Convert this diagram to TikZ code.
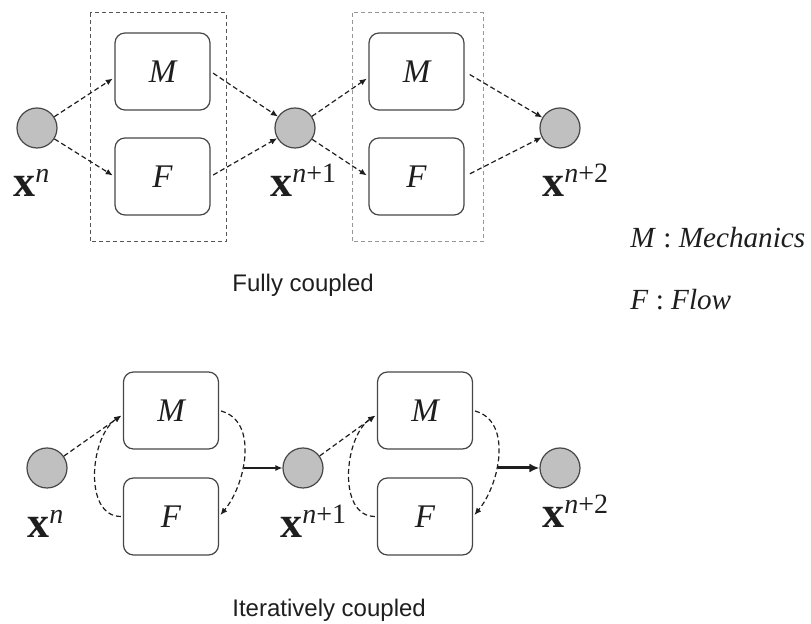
\documentclass[tikz,border=0pt]{standalone}
\usepackage{fontspec}
\setmainfont{Liberation Serif}
\newfontfamily\captionfont{Liberation Sans}
\usepackage{xcolor}
\usepackage{tikz}
\usetikzlibrary{positioning,arrows.meta}

\definecolor{nodegray}{RGB}{192,192,192}
\definecolor{edgegray}{RGB}{70,70,70}
\definecolor{framegray}{RGB}{85,85,85}
\definecolor{framelight}{RGB}{150,150,150}
\definecolor{inkgray}{RGB}{30,30,30}

% state label: bold x with italic superscript
\newcommand{\statex}[1]{\textbf{x}\raisebox{7pt}{\fontsize{14}{16}\selectfont\textit{n}#1}}

\begin{document}
\begin{tikzpicture}[x=0.5pt, y=-0.5pt,
    state/.style={circle, draw=edgegray, fill=nodegray, line width=0.6pt, minimum size=20pt, inner sep=0pt},
    block/.style={draw=edgegray, rounded corners=5pt, line width=0.6pt, minimum width=47.5pt, minimum height=38.5pt, inner sep=0pt, font=\fontsize{16.5}{18}\selectfont\itshape, text=inkgray},
    group/.style={line width=0.5pt, dash pattern=on 2pt off 1.5pt},
    flow/.style={draw=inkgray, line width=0.6pt, dash pattern=on 2.5pt off 1.5pt, -{Latex[length=3.5pt,width=3pt]}},
    pass/.style={draw=inkgray, line width=0.6pt, -{Latex[length=3.5pt,width=3pt]}},
    lbl/.style={inner sep=0pt, anchor=base west, font=\fontsize{22}{24}\selectfont, text=inkgray},
    caption/.style={inner sep=0pt, anchor=base west, font=\captionfont\fontsize{12}{14}\selectfont, text=inkgray},
    legend/.style={inner sep=0pt, anchor=base west, font=\fontsize{14.6}{18}\selectfont, text=inkgray}]
  \useasboundingbox (0,0) rectangle (811,624);

  % fully coupled
  \draw[group, draw=framegray] (90,13) rectangle (226,242);
  \draw[group, draw=framelight] (352,13) rectangle (483,242);
  \node[state] (xa) at (37,128) {};
  \node[block] (Ma) at (162.5,71.5) {M};
  \node[block] (Fa) at (162.5,176.5) {F};
  \node[state] (xb) at (295,128) {};
  \node[block] (Mb) at (416.5,71.5) {M};
  \node[block] (Fb) at (416.5,176.5) {F};
  \node[state] (xc) at (560,128) {};
  \node[lbl] (lxa) at (13,197) {\statex{}};
  \node[lbl] (lxb) at (270,197) {\statex{+1}};
  \node[lbl] (lxc) at (542,197) {\statex{+2}};
  \draw[flow, shorten >=1pt] (xa) -- ([yshift=-3pt]Ma.west);
  \draw[flow, shorten >=1pt] (xa) -- (Fa.west);
  \draw[flow, shorten <=1.5pt] (Ma.east) -- (xb);
  \draw[flow, shorten <=1.5pt] (Fa.east) -- (xb);
  \draw[flow, shorten >=1pt] (xb) -- ([yshift=-3pt]Mb.west);
  \draw[flow, shorten >=1pt] (xb) -- (Fb.west);
  \draw[flow, shorten <=3pt] (Mb.east) -- (xc);
  \draw[flow, shorten <=3pt] (Fb.east) -- (xc);
  \node[caption] (cfull) at (232,292) {Fully coupled};

  % iteratively coupled
  \node[state] (xd) at (47,468) {};
  \node[block] (Md) at (171,410.5) {M};
  \node[block] (Fd) at (171,516.5) {F};
  \node[state] (xe) at (303,468) {};
  \node[block] (Me) at (425,410.5) {M};
  \node[block] (Fe) at (425,516.5) {F};
  \node[state] (xf) at (560,468) {};
  \node[lbl] (lxd) at (27,538) {\statex{}};
  \node[lbl] (lxe) at (280,538) {\statex{+1}};
  \node[lbl] (lxf) at (542,528) {\statex{+2}};
  \draw[flow, shorten >=1pt] (xd) -- ([yshift=-2pt]Md.west);
  \draw[flow, shorten <=1pt, shorten >=1pt] (Fd.west) to[out=180, in=214] ([yshift=-2pt]Md.west);
  \draw[flow, shorten <=1pt, shorten >=1pt] (Md.east) to[out=-15, in=50] coordinate[pos=0.5] (jd) (Fd.east);
  \draw[pass] (jd |- xe) -- (xe);
  \draw[flow, shorten >=1pt] (xe) -- ([yshift=-2pt]Me.west);
  \draw[flow, shorten <=1pt, shorten >=1pt] (Fe.west) to[out=180, in=214] ([yshift=-2pt]Me.west);
  \draw[flow, shorten <=1pt, shorten >=1pt] (Me.east) to[out=-15, in=50] coordinate[pos=0.5] (je) (Fe.east);
  \draw[pass, line width=1.5pt, -{Latex[length=5pt,width=4.5pt]}] (je |- xf) -- (xf);
  \node[caption] (citer) at (232,617) {Iteratively coupled};

  % legend
  \node[legend] (lm) at (630,248) {\textit{M} : \textit{Mechanics}};
  \node[legend] (lf) at (630,310) {\textit{F} : \textit{Flow}};
\end{tikzpicture}
\end{document}
